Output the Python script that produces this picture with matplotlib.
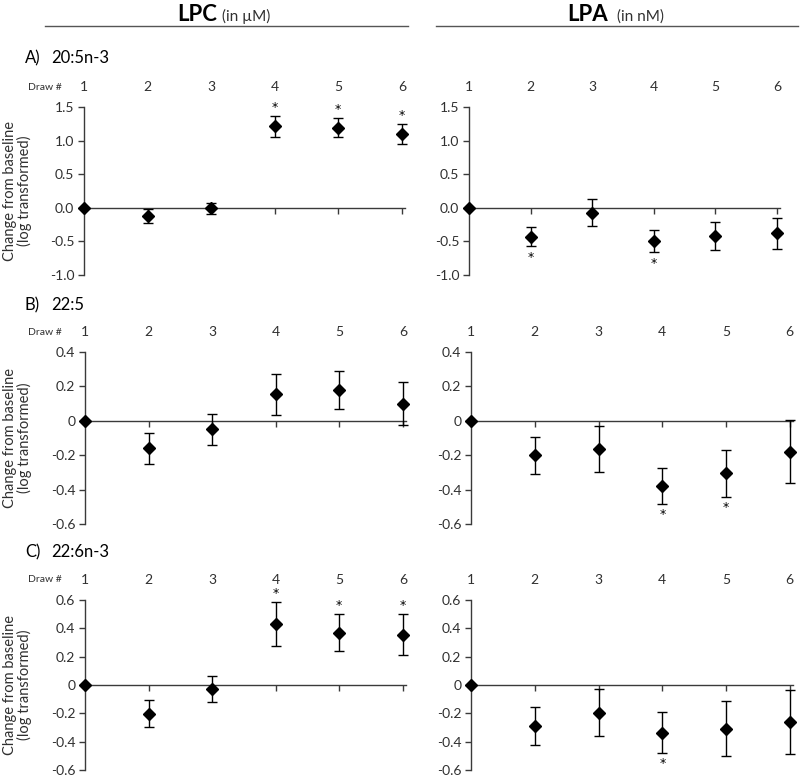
import matplotlib
matplotlib.use("Agg")
import matplotlib.pyplot as plt
import matplotlib.transforms as mtransforms

plt.rcParams['font.family'] = ['Lato', 'DejaVu Sans']

draws = [1, 2, 3, 4, 5, 6]
draw_labels = ["1", "2", "3", "4", "5", "6"]

# Panel A: 20:5n-3
lpc_a_mean = [0, -0.12, -0.01, 1.21, 1.19, 1.10]
lpc_a_err = [0, 0.10, 0.08, 0.16, 0.14, 0.15]
lpc_a_sig = [None, None, None, "above", "above", "above"]
lpa_a_mean = [0, -0.43, -0.07, -0.50, -0.42, -0.38]
lpa_a_err = [0, 0.145, 0.195, 0.165, 0.215, 0.23]
lpa_a_sig = [None, "below", None, "below", None, None]

# Panel B: 22:5
lpc_b_mean = [0, -0.16, -0.05, 0.155, 0.18, 0.10]
lpc_b_err = [0, 0.09, 0.09, 0.12, 0.112, 0.126]
lpc_b_sig = [None, None, None, None, None, None]
lpa_b_mean = [0, -0.20, -0.165, -0.378, -0.305, -0.18]
lpa_b_err = [0, 0.108, 0.134, 0.105, 0.136, 0.183]
lpa_b_sig = [None, None, None, "below", "below", None]

# Panel C: 22:6n-3
lpc_c_mean = [0, -0.203, -0.027, 0.428, 0.37, 0.355]
lpc_c_err = [0, 0.096, 0.094, 0.155, 0.128, 0.144]
lpc_c_sig = [None, None, None, "above", "above", "above"]
lpa_c_mean = [0, -0.29, -0.196, -0.336, -0.308, -0.262]
lpa_c_err = [0, 0.135, 0.166, 0.144, 0.194, 0.228]
lpa_c_sig = [None, None, None, "below", None, None]

ticks_a = [-1.0, -0.5, 0.0, 0.5, 1.0, 1.5]
ticklabels_a = ["-1.0", "-0.5", "0.0", "0.5", "1.0", "1.5"]
ticks_b = [-0.6, -0.4, -0.2, 0, 0.2, 0.4]
ticklabels_b = ["-0.6", "-0.4", "-0.2", "0", "0.2", "0.4"]
ticks_c = [-0.6, -0.4, -0.2, 0, 0.2, 0.4, 0.6]
ticklabels_c = ["-0.6", "-0.4", "-0.2", "0", "0.2", "0.4", "0.6"]

panel_titles = ["A)", "B)", "C)"]
panel_names = ["20:5n-3", "22:5", "22:6n-3"]

W, H = 800, 776
fig = plt.figure(figsize=(W / 100, H / 100), dpi=100)

def add_ax(x0, x1, ytop, ybot):
    return fig.add_axes([x0 / W, 1 - ybot / H, (x1 - x0) / W, (ybot - ytop) / H])

AX = "#3a3a3a"
TXT = "#303030"

def style(ax, ylim, ticks, labels, left_panel):
    ax.set_xlim(1, 6.05)
    ax.set_ylim(*ylim)
    for s in ["top", "right"]:
        ax.spines[s].set_visible(False)
    ax.spines["bottom"].set_position(("data", 0))
    ax.spines["bottom"].set_color(AX)
    ax.spines["left"].set_color(AX)
    ax.spines["bottom"].set_linewidth(1.0)
    ax.spines["left"].set_linewidth(1.0)
    ax.set_xticks(draws[1:])
    ax.set_xticklabels([])
    ax.tick_params(axis="x", direction="out", length=4, color=AX, width=1)
    ax.set_yticks(ticks)
    ax.set_yticklabels(labels)
    ax.tick_params(axis="y", direction="out", length=4, color=AX, width=1,
                   labelsize=10, labelcolor=TXT, pad=3)
    pos = ax.get_position()
    yoff = 1.0 + 20 / (pos.height * H)
    trans = mtransforms.blended_transform_factory(ax.transData, ax.transAxes)
    for d, lab in zip(draws, draw_labels):
        ax.text(d, yoff, lab, transform=trans,
                ha="center", va="center", fontsize=10, color=TXT, clip_on=False)
    if left_panel:
        xw = pos.width * W
        ax.text((28 - pos.x0 * W) / xw, yoff, "Draw #",
                transform=ax.transAxes, ha="left", va="center",
                fontsize=7.5, color=TXT)
        ax.set_ylabel("Change from baseline\n(log transformed)", fontsize=10.5,
                      color=TXT, linespacing=1.0)
        ax.yaxis.set_label_coords((32 - pos.x0 * W) / xw, 0.5)

def plot_series(ax, mean, err, sig):
    ax.errorbar(draws, mean, yerr=err, fmt="D", color="black", ecolor="black",
                markersize=6.5, elinewidth=1, capsize=3.5, capthick=1,
                clip_on=False, zorder=3)
    for d, m, e, s in zip(draws, mean, err, sig):
        if s == "above":
            ax.annotate("*", (d, m + e), xytext=(0, 1.5), textcoords="offset points",
                        ha="center", va="bottom", fontsize=9, color="black",
                        family="DejaVu Sans")
        elif s == "below":
            ax.annotate("*", (d, m - e), xytext=(0, -3), textcoords="offset points",
                        ha="center", va="top", fontsize=9, color="black",
                        family="DejaVu Sans")

# axes geometry in pixels
axA_l = add_ax(84, 405, 107, 275)
axA_r = add_ax(469, 780, 107, 275)
axB_l = add_ax(85, 406, 352, 524)
axB_r = add_ax(471, 793, 352, 524)
axC_l = add_ax(85, 406, 600, 770)
axC_r = add_ax(471, 793, 600, 770)

style(axA_l, (-1.0, 1.5), ticks_a, ticklabels_a, True)
style(axA_r, (-1.0, 1.5), ticks_a, ticklabels_a, False)
style(axB_l, (-0.6, 0.4), ticks_b, ticklabels_b, True)
style(axB_r, (-0.6, 0.4), ticks_b, ticklabels_b, False)
style(axC_l, (-0.6, 0.6), ticks_c, ticklabels_c, True)
style(axC_r, (-0.6, 0.6), ticks_c, ticklabels_c, False)

plot_series(axA_l, lpc_a_mean, lpc_a_err, lpc_a_sig)
plot_series(axA_r, lpa_a_mean, lpa_a_err, lpa_a_sig)
plot_series(axB_l, lpc_b_mean, lpc_b_err, lpc_b_sig)
plot_series(axB_r, lpa_b_mean, lpa_b_err, lpa_b_sig)
plot_series(axC_l, lpc_c_mean, lpc_c_err, lpc_c_sig)
plot_series(axC_r, lpa_c_mean, lpa_c_err, lpa_c_sig)

# panel labels
for lab, name, yc in zip(panel_titles, panel_names, [58, 305, 552]):
    fig.text(25 / W, 1 - yc / H, lab, ha="left", va="center", fontsize=12, color="black")
    fig.text(51 / W, 1 - yc / H, name, ha="left", va="center", fontsize=12, color="black")

# column headers
fig.text(177 / W, 1 - 21 / H, "LPC", ha="left", va="baseline", fontsize=16,
         fontweight="bold", color="black")
fig.text(222 / W, 1 - 21 / H, "(in µM)", ha="left", va="baseline", fontsize=11,
         color=TXT)
fig.text(567 / W, 1 - 21 / H, "LPA", ha="left", va="baseline", fontsize=16,
         fontweight="bold", color="black")
fig.text(617 / W, 1 - 21 / H, "(in nM)", ha="left", va="baseline", fontsize=11,
         color=TXT)
fig.add_artist(plt.Line2D([45 / W, 408 / W], [1 - 26 / H, 1 - 26 / H],
                          color="#555555", linewidth=1))
fig.add_artist(plt.Line2D([436 / W, 798 / W], [1 - 26 / H, 1 - 26 / H],
                          color="#555555", linewidth=1))

fig.savefig("out.png", dpi=100)
